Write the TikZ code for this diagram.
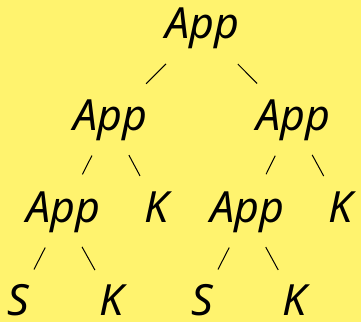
\documentclass[tikz,border=0pt]{standalone}
\usepackage{fontspec}
\setmainfont{Noto Sans}
\usetikzlibrary{calc}
\definecolor{bgyellow}{RGB}{255,243,110}

\begin{document}
\begin{tikzpicture}[
	x=0.5pt, y=-0.5pt,
	every node/.style={font=\fontsize{21.5}{25}\selectfont\itshape, inner sep=0pt, anchor=base},
	branch/.style 2 args={line width=0.5pt, shorten <=#1, shorten >=#2}
	]
	
	% Background
	\fill[bgyellow] (0,0) rectangle (361,322);
	\useasboundingbox (0,0) rectangle (361,322);
	
	% Nodes
	\node (app) at (202,38) {App};
	\node (appl) at ([shift={(-92,92)}]app.base) {App};
	\node (appr) at ([shift={(91,92)}]app.base) {App};
	\node (appll) at ([shift={(-47,93)}]appl.base) {App};
	\node (kl) at ([shift={(47,93)}]appl.base) {K};
	\node (apprl) at ([shift={(-46,93)}]appr.base) {App};
	\node (kr) at ([shift={(48,93)}]appr.base) {K};
	\node (sl) at ([shift={(-45,93)}]appll.base) {S};
	\node (kll) at ([shift={(49,93)}]appll.base) {K};
	\node (sr) at ([shift={(-45,93)}]apprl.base) {S};
	\node (krl) at ([shift={(48,93)}]apprl.base) {K};
	
	% Branches
	\draw[branch={25.5pt}{25.5pt}] (app.center) -- (appl.center);
	\draw[branch={25.5pt}{25.5pt}] (app.center) -- (appr.center);
	\draw[branch={20pt}{21.5pt}] (appl.center) -- (appll.center);
	\draw[branch={20pt}{18pt}] (appl.center) -- (kl.center);
	\draw[branch={20pt}{21.5pt}] (appr.center) -- (apprl.center);
	\draw[branch={20pt}{18pt}] (appr.center) -- (kr.center);
	\draw[branch={19.5pt}{17.5pt}] (appll.center) -- (sl.center);
	\draw[branch={19.5pt}{17.5pt}] (appll.center) -- (kll.center);
	\draw[branch={19.5pt}{17.5pt}] (apprl.center) -- (sr.center);
	\draw[branch={19.5pt}{17.5pt}] (apprl.center) -- (krl.center);
\end{tikzpicture}
\end{document}
